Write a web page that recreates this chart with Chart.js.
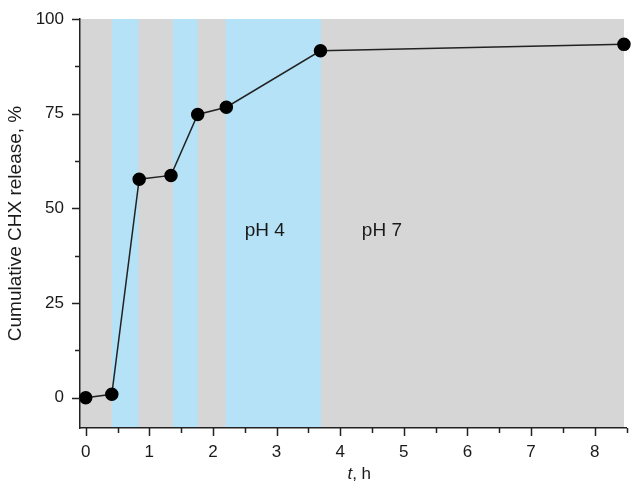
<!DOCTYPE html>
<html>
<head>
<meta charset="utf-8">
<script src="https://cdn.jsdelivr.net/npm/chart.js@4.4.1/dist/chart.umd.min.js"></script>
<style>
  html, body { margin: 0; padding: 0; background: #fff; }
  #wrap { width: 634px; height: 483px; position: relative; }
</style>
</head>
<body>
<div id="wrap"><canvas id="chart"></canvas></div>
<script>
// release data
const timeH = [0, 0.41, 0.84, 1.34, 1.76, 2.21, 3.69, 8.46];
const releasePct = [0, 0.9, 57.7, 58.7, 74.8, 76.7, 91.6, 93.3];

// pH 4 windows (blue), everything else is pH 7 (gray)
const acidStart = [0.41, 1.37, 2.2];
const acidEnd = [0.83, 1.76, 3.7];
const neutralEnd = 8.46;

const phLabels = ['pH 4', 'pH 7'];
const phLabelX = [2.5, 4.34];
const phLabelY = [44, 44];

const xTicks = [0, 0.5, 1, 1.5, 2, 2.5, 3, 3.5, 4, 4.5, 5, 5.5, 6, 6.5, 7, 7.5, 8, 8.5];
const yTicks = [0, 12.5, 25, 37.5, 50, 62.5, 75, 87.5, 100];

const FONT = "'Liberation Sans', Arial, sans-serif";

const phasePlugin = {
  id: 'phases',
  beforeDraw(chart) {
    const { ctx, chartArea: a, scales: { x, y } } = chart;
    ctx.save();
    ctx.fillStyle = '#d6d6d6';
    const gEnd = x.getPixelForValue(neutralEnd);
    ctx.fillRect(a.left, a.top, gEnd - a.left, a.bottom - a.top);
    ctx.fillStyle = '#b5e2f6';
    acidStart.forEach((s, i) => {
      const x1 = x.getPixelForValue(s), x2 = x.getPixelForValue(acidEnd[i]);
      ctx.fillRect(x1, a.top, x2 - x1, a.bottom - a.top);
    });
    ctx.fillStyle = '#1a1a1a';
    ctx.font = '19px ' + FONT;
    ctx.textAlign = 'left';
    ctx.textBaseline = 'middle';
    phLabels.forEach((t, i) => {
      ctx.fillText(t, x.getPixelForValue(phLabelX[i]), y.getPixelForValue(phLabelY[i]));
    });
    ctx.restore();
  },
  afterDraw(chart) {
    const { ctx, chartArea: a, scales: { x, y } } = chart;
    ctx.save();
    // major / minor tick marks pointing outwards
    ctx.strokeStyle = '#222';
    ctx.lineWidth = 1.5;
    ctx.beginPath();
    yTicks.forEach(v => {
      const py = Math.round(y.getPixelForValue(v)) + 0.5;
      const len = v % 25 === 0 ? 8 : 5;
      ctx.moveTo(a.left, py);
      ctx.lineTo(a.left - len, py);
    });
    xTicks.forEach(v => {
      const px = Math.round(x.getPixelForValue(v)) + 0.5;
      const len = v % 1 === 0 ? 8 : 5;
      ctx.moveTo(px, a.bottom);
      ctx.lineTo(px, a.bottom + len);
    });
    ctx.stroke();

    // x title: italic t, plain ", h"
    ctx.fillStyle = '#1a1a1a';
    ctx.textBaseline = 'middle';
    ctx.textAlign = 'left';
    const cx = (a.left + a.right) / 2 + 6;
    const ty = chart.height - 9;
    ctx.font = 'italic 17px ' + FONT;
    const wt = ctx.measureText('t').width;
    ctx.font = '17px ' + FONT;
    const wr = ctx.measureText(', h').width;
    const sx = cx - (wt + wr) / 2;
    ctx.font = 'italic 17px ' + FONT;
    ctx.fillText('t', sx, ty);
    ctx.font = '17px ' + FONT;
    ctx.fillText(', h', sx + wt, ty);
    ctx.restore();
  }
};

new Chart(document.getElementById('chart'), {
  type: 'line',
  data: {
    datasets: [{
      data: timeH.map((t, i) => ({ x: t, y: releasePct[i] })),
      borderColor: '#222',
      borderWidth: 1.5,
      pointBackgroundColor: '#000',
      pointBorderColor: '#000',
      pointRadius: 6,
      pointHoverRadius: 6,
      tension: 0,
      clip: false
    }]
  },
  options: {
    responsive: true,
    maintainAspectRatio: false,
    animation: false,
    events: [],
    layout: { padding: { left: 0, top: 19, right: 3, bottom: 0 } },
    plugins: { legend: { display: false }, tooltip: { enabled: false } },
    scales: {
      x: {
        type: 'linear',
        min: -0.09,
        max: 8.5,
        afterBuildTicks: s => { s.ticks = xTicks.map(v => ({ value: v })); },
        afterFit: s => { s.height = 55; },
        grid: { drawOnChartArea: false, tickLength: 8, tickColor: 'rgba(0,0,0,0)' },
        border: { color: '#222', width: 1.5 },
        ticks: {
          autoSkip: false,
          maxRotation: 0,
          padding: 6,
          color: '#1a1a1a',
          font: { family: FONT, size: 17 },
          callback: v => (v % 1 === 0 ? String(v) : '')
        }
      },
      y: {
        type: 'linear',
        min: -8,
        max: 100,
        afterBuildTicks: s => { s.ticks = yTicks.map(v => ({ value: v })); },
        afterFit: s => { s.width = 80; },
        grid: { drawOnChartArea: false, tickLength: 8, tickColor: 'rgba(0,0,0,0)' },
        border: { color: '#222', width: 1.5 },
        ticks: {
          padding: 8,
          color: '#1a1a1a',
          font: { family: FONT, size: 17 },
          callback: v => (v % 25 === 0 ? String(v) : '')
        },
        title: {
          display: true,
          text: 'Cumulative CHX release, %',
          color: '#1a1a1a',
          font: { family: FONT, size: 19 },
          padding: { top: 4, bottom: 0 }
        }
      }
    }
  },
  plugins: [phasePlugin]
});
</script>
</body>
</html>
